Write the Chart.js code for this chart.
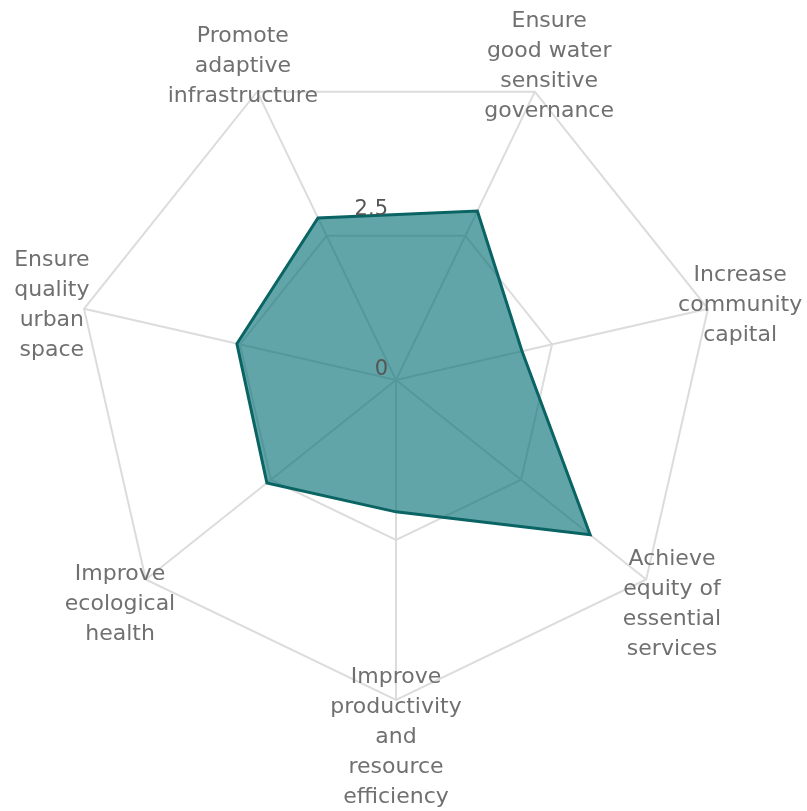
<!DOCTYPE html>
<html>
<head>
<meta charset="utf-8">
<script src="https://cdn.jsdelivr.net/npm/chart.js@4"></script>
<style>
  body { margin: 0; background: #fff; }
  #box { width: 807px; height: 811px; }
</style>
</head>
<body>
<div id="box"><canvas id="myChart"></canvas></div>
<script>
// goals of the index, clockwise from the top right
const goals = [
  ['Ensure', 'good water', 'sensitive', 'governance'],
  ['Increase', 'community', 'capital'],
  ['Achieve', 'equity of', 'essential', 'services'],
  ['Improve', 'productivity', 'and', 'resource', 'efficiency'],
  ['Improve', 'ecological', 'health'],
  ['Ensure', 'quality', 'urban', 'space'],
  ['Promote', 'adaptive', 'infrastructure']
];
const scores = [2.93, 2.02, 3.88, 2.06, 2.58, 2.55, 2.81];
const tickValues = [0, 2.5];
const tickLabels = ['0', '2.5'];

// labels around the web, centred just outside the outer ring
const goalLabels = {
  id: 'goalLabels',
  afterDraw(chart) {
    const s = chart.scales.r;
    const ctx = chart.ctx;
    ctx.save();
    ctx.font = '22px "DejaVu Sans"';
    ctx.fillStyle = '#707070';
    ctx.textAlign = 'center';
    ctx.textBaseline = 'middle';
    goals.forEach((lines, i) => {
      const p = s.getPointPosition(i, s.drawingArea + 33);
      lines.forEach((t, j) => {
        ctx.fillText(t, p.x, p.y + 4 + (j - (lines.length - 1) / 2) * 30);
      });
    });
    // value ticks straight up from the centre
    ctx.font = '21px "DejaVu Sans"';
    ctx.fillStyle = '#555';
    ctx.textAlign = 'right';
    tickValues.forEach((v, i) => {
      ctx.fillText(tickLabels[i], s.xCenter - 8, s.yCenter - s.getDistanceFromCenterForValue(v) - 10);
    });
    ctx.restore();
  }
};

const ctx = document.getElementById('myChart');

new Chart(ctx, {
  type: 'radar',
  data: {
    labels: goals,
    datasets: [{
      data: scores,
      backgroundColor: 'rgba(0,110,115,0.62)',
      borderColor: '#0a6464',
      borderWidth: 3,
      pointRadius: 0,
      pointHoverRadius: 0
    }]
  },
  options: {
    responsive: true,
    maintainAspectRatio: false,
    animation: false,
    layout: { padding: { left: 76, right: 91, top: 60, bottom: 111 } },
    plugins: { legend: { display: false }, tooltip: { enabled: false } },
    scales: {
      r: {
        min: 0,
        max: 5,
        startAngle: 360 / 14,
        ticks: { display: false, stepSize: 2.5 },
        pointLabels: { display: false },
        grid: { color: '#dcdcdc', lineWidth: 2 },
        angleLines: { color: '#dcdcdc', lineWidth: 2 }
      }
    }
  },
  plugins: [goalLabels]
});
</script>
</body>
</html>
